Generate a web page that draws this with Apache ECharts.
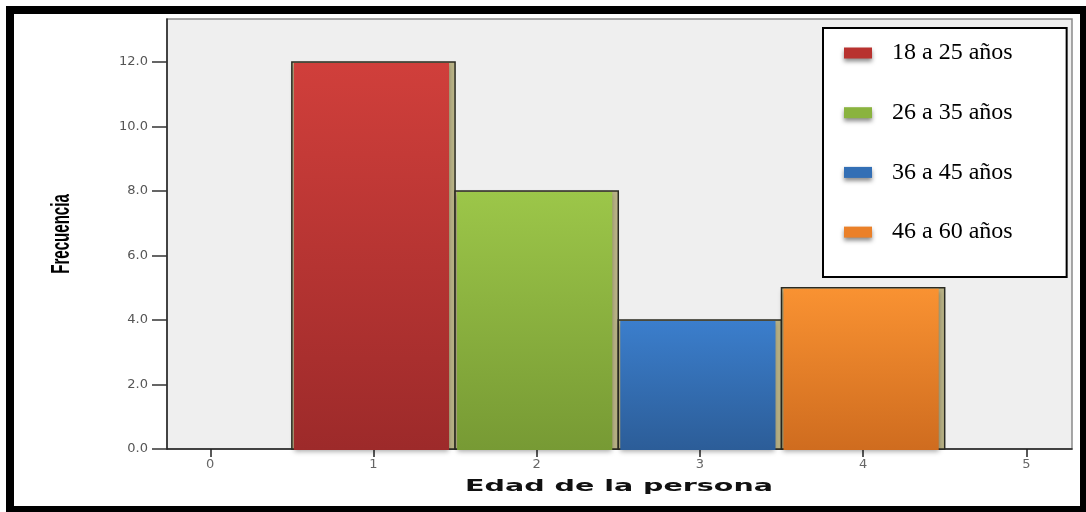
<!DOCTYPE html>
<html><head><meta charset="utf-8">
<script src="https://cdn.jsdelivr.net/npm/echarts@6/dist/echarts.min.js"></script>
<style>
html,body{margin:0;padding:0;background:#fff}
#c{width:1086px;height:512px;position:absolute;left:0;top:0}
#frame{position:absolute;left:6px;top:6px;width:1066px;height:492px;border-style:solid;border-color:#000;border-width:8px 6px 6px 8px;pointer-events:none}
</style></head><body>
<div id="c"></div><div id="frame"></div>
<script>
const categories = ['18 a 25 años', '26 a 35 años', '36 a 45 años', '46 a 60 años'];
const positions = [1, 2, 3, 4];
const values = [12, 8, 4, 5];
const xTicks = [0, 1, 2, 3, 4, 5];
const yTicks = [0, 2, 4, 6, 8, 10, 12];
const topColors = ['#d03f3b', '#9cc649', '#3b7ecc', '#f99232'];
const bottomColors = ['#9d2a2a', '#779a34', '#2c5d98', '#cf6c1f'];
const midColors = ['#b8322f', '#8ab33f', '#336fb5', '#ea8029'];

const chart = echarts.init(document.getElementById('c'), null, {renderer: 'canvas'});

function makeRender(i) {
  return function (params, api) {
    const x = api.value(0), v = api.value(1);
    const p0 = api.coord([x - 0.5, v]);
    const p1 = api.coord([x + 0.5, 0]);
    const l = p0[0], t = p0[1], r = p1[0], b = p1[1];
    return {
      type: 'group',
      children: [
        {type: 'rect', shape: {x: l, y: t, width: r - l, height: b - t},
         style: {fill: '#b9b286', stroke: '#2b2b22', lineWidth: 1.5}},
        {type: 'rect', shape: {x: l + 2, y: t + 1, width: r - l - 8, height: b - t},
         style: {
           fill: new echarts.graphic.LinearGradient(0, 0, 0, 1, [
             {offset: 0, color: topColors[i]}, {offset: 1, color: bottomColors[i]}]),
           shadowBlur: 5, shadowColor: 'rgba(0,0,0,0.35)', shadowOffsetY: 2
         }}
      ]
    };
  };
}

const series = categories.map((name, i) => ({
  name: name,
  type: 'custom',
  itemStyle: {color: midColors[i]},
  renderItem: makeRender(i),
  encode: {x: 0, y: 1},
  data: [[positions[i], values[i]]]
}));

chart.setOption({
  animation: false,
  grid: {left: 167, right: 14, top: 19, bottom: 63, show: true,
         backgroundColor: '#efefef', borderColor: '#8a8a8a', borderWidth: 1.5},
  xAxis: {
    type: 'value', min: -0.265, max: 5.28,
    axisLine: {show: true, onZero: false, lineStyle: {color: '#222', width: 1.5}},
    axisTick: {show: true, length: 8, customValues: xTicks, lineStyle: {color: '#222', width: 1.5}},
    axisLabel: {customValues: xTicks, margin: 9, color: '#666', fontFamily: 'DejaVu Sans', fontSize: 13},
    splitLine: {show: false}
  },
  yAxis: {
    type: 'value', min: 0, max: 13.33,
    axisLine: {show: true, onZero: false, lineStyle: {color: '#222', width: 1.5}},
    axisTick: {show: true, length: 15, customValues: yTicks, lineStyle: {color: '#333', width: 1.5}},
    axisLabel: {customValues: yTicks, formatter: v => v.toFixed(1), margin: 19,
                color: '#555', fontFamily: 'DejaVu Sans', fontSize: 13},
    splitLine: {show: false}
  },
  legend: {
    orient: 'vertical', left: 823, top: 28,
    padding: [13, 54, 33, 21],
    itemWidth: 28, itemHeight: 11, itemGap: 35.7,
    backgroundColor: '#fff', borderColor: '#000', borderWidth: 2,
    icon: 'rect',
    textStyle: {fontFamily: 'Liberation Serif', fontSize: 24, color: '#000', lineHeight: 24, padding: [0, 0, 0, 15]},
    data: categories.map((n, i) => ({name: n, itemStyle: {color: midColors[i],
      shadowBlur: 4, shadowColor: 'rgba(0,0,0,0.45)', shadowOffsetY: 3}}))
  },
  graphic: [
    {type: 'text', x: 619, y: 487, scaleX: 1.9,
     style: {text: 'Edad de la persona', fontSize: 15, fontWeight: 'bold', fontFamily: 'DejaVu Sans',
             fill: '#111', align: 'center', verticalAlign: 'middle'}},
    {type: 'text', x: 62, y: 234, rotation: Math.PI / 2, scaleX: 0.58,
     style: {text: 'Frecuencia', fontSize: 26, fontWeight: 'bold', fontFamily: 'Liberation Sans',
             fill: '#000', align: 'center', verticalAlign: 'middle'}}
  ],
  series: series
});
</script>
</body></html>
